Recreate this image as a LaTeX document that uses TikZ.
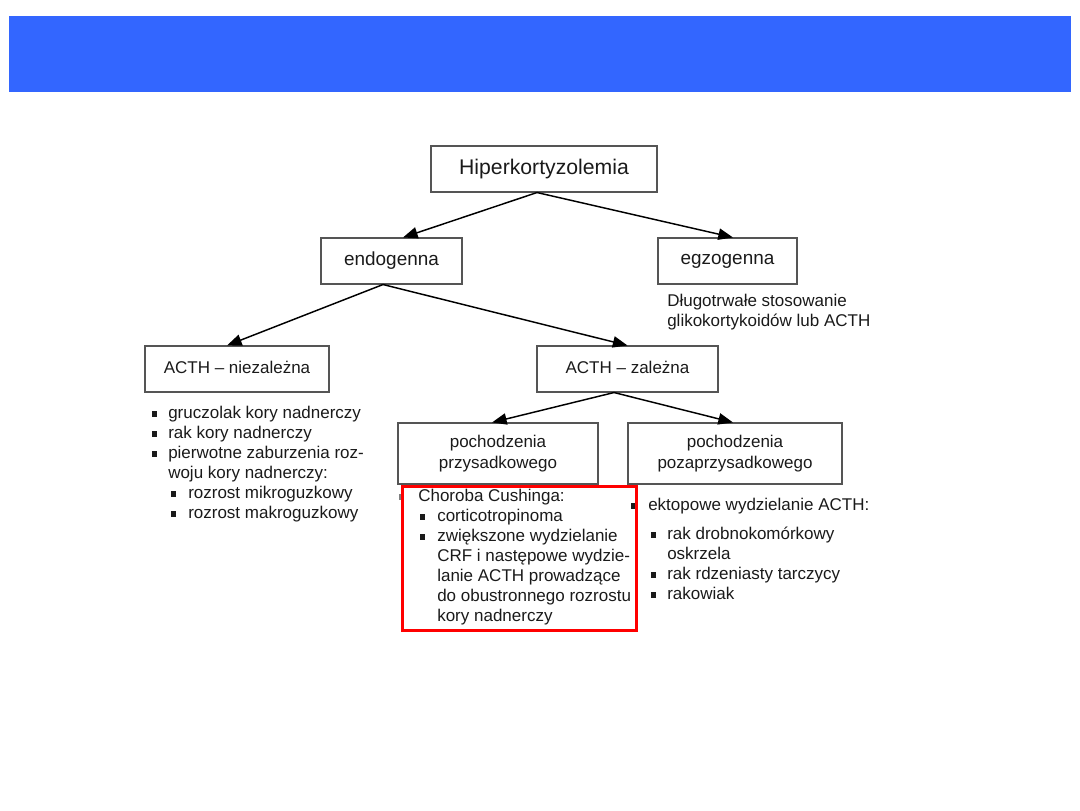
\documentclass[tikz,border=0pt]{standalone}
\usepackage{fontspec}
\setmainfont{Liberation Sans}
\usetikzlibrary{calc,arrows.meta}
\definecolor{barblue}{HTML}{3366FF}
\definecolor{txt}{HTML}{1A1A1A}
\definecolor{boxline}{HTML}{555555}
\newcommand\sqb{\raisebox{1.5pt}{\rule{3.9pt}{3.9pt}}}
\tikzset{
  box/.style={draw=boxline, line width=0.8pt, inner sep=0pt, align=center, text=txt},
  bigf/.style={font=\fontsize{15.9pt}{19pt}\selectfont},
  midf/.style={font=\fontsize{14.2pt}{17pt}\selectfont},
  smf/.style={font=\fontsize{12.75pt}{15.5pt}\selectfont},
  listf/.style={font=\fontsize{12.75pt}{15pt}\selectfont, align=left, inner sep=0pt, text=txt, anchor=north west},
  arr/.style={line width=1.1pt, draw=black, -{Triangle[length=11pt,width=8.5pt]}},
}
\begin{document}
\begin{tikzpicture}[x=0.75pt,y=-0.75pt]
\useasboundingbox (0,0) rectangle (1080,810);
\fill[barblue] (9,16) rectangle (1071,92);

\node[box,bigf,minimum width=169.5pt,minimum height=34.5pt] (hip) at (544,169) {Hiperkortyzolemia};
\node[box,midf,minimum width=105.75pt,minimum height=34.5pt] (endo) at (391.5,261) {endogenna};
\node[box,midf,minimum width=104.25pt,minimum height=34.5pt] (egzo) at (727.5,261) {egzogenna};
\node[box,smf,minimum width=138pt,minimum height=34.5pt] (nz) at (237,369) {\raisebox{3pt}{ACTH – niezależna}};
\node[box,smf,minimum width=135.75pt,minimum height=34.5pt] (zal) at (627.5,369) {\raisebox{3pt}{ACTH – zależna}};
\node[box,smf,minimum width=150pt,minimum height=45.75pt] (przy) at (498,453.5) {pochodzenia\\przysadkowego};
\node[box,smf,minimum width=160.5pt,minimum height=45.75pt] (poza) at (735,453.5) {pochodzenia\\pozaprzysadkowego};

\coordinate (hs) at ($(hip.south)+(-7,0)$);
\coordinate (es) at ($(endo.south)+(-8.5,0)$);
\coordinate (zs) at ($(zal.south)+(-13.5,0)$);
\draw[arr] (hs) -- ($(endo.north)+(11.5,0)$);
\draw[arr] (hs) -- ($(egzo.north)+(5.5,0)$);
\draw[arr] (es) -- ($(nz.north)+(-10,0)$);
\draw[arr] (es) -- (zal.north);
\draw[arr] (zs) -- ($(przy.north)+(-6,0)$);
\draw[arr] (zs) -- ($(poza.north)+(-2,0)$);

\node[listf] (dlug) at (667,294) {Długotrwałe stosowanie\\glikokortykoidów lub ACTH};

\node[listf] (left) at (152,406) {%
\makebox[12pt][l]{\sqb}gruczolak kory nadnerczy\\
\makebox[12pt][l]{\sqb}rak kory nadnerczy\\
\makebox[12pt][l]{\sqb}pierwotne zaburzenia roz-\\
\hspace*{12pt}woju kory nadnerczy:\\
\hspace*{14.25pt}\makebox[12.75pt][l]{\sqb}rozrost mikroguzkowy\\
\hspace*{14.25pt}\makebox[12.75pt][l]{\sqb}rozrost makroguzkowy};

\node[listf] (cush) at (399,489) {%
\makebox[14.25pt][l]{\color{gray}\sqb}Choroba Cushinga:\\
\hspace*{15.75pt}\makebox[12.75pt][l]{\sqb}corticotropinoma\\
\hspace*{15.75pt}\makebox[12.75pt][l]{\sqb}zwiększone wydzielanie\\
\hspace*{28.5pt}CRF i następowe wydzie-\\
\hspace*{28.5pt}lanie ACTH prowadzące\\
\hspace*{28.5pt}do obustronnego rozrostu\\
\hspace*{28.5pt}kory nadnerczy};

\node[listf] (ekt) at (631,498) {%
\makebox[12.75pt][l]{\sqb}ektopowe wydzielanie ACTH:\\[6.75pt]
\hspace*{15pt}\makebox[12pt][l]{\sqb}rak drobnokomórkowy\\
\hspace*{27pt}oskrzela\\
\hspace*{15pt}\makebox[12pt][l]{\sqb}rak rdzeniasty tarczycy\\
\hspace*{15pt}\makebox[12pt][l]{\sqb}rakowiak};

\draw[red, line width=2.25pt] (402,486) rectangle (636,630);
\end{tikzpicture}
\end{document}
